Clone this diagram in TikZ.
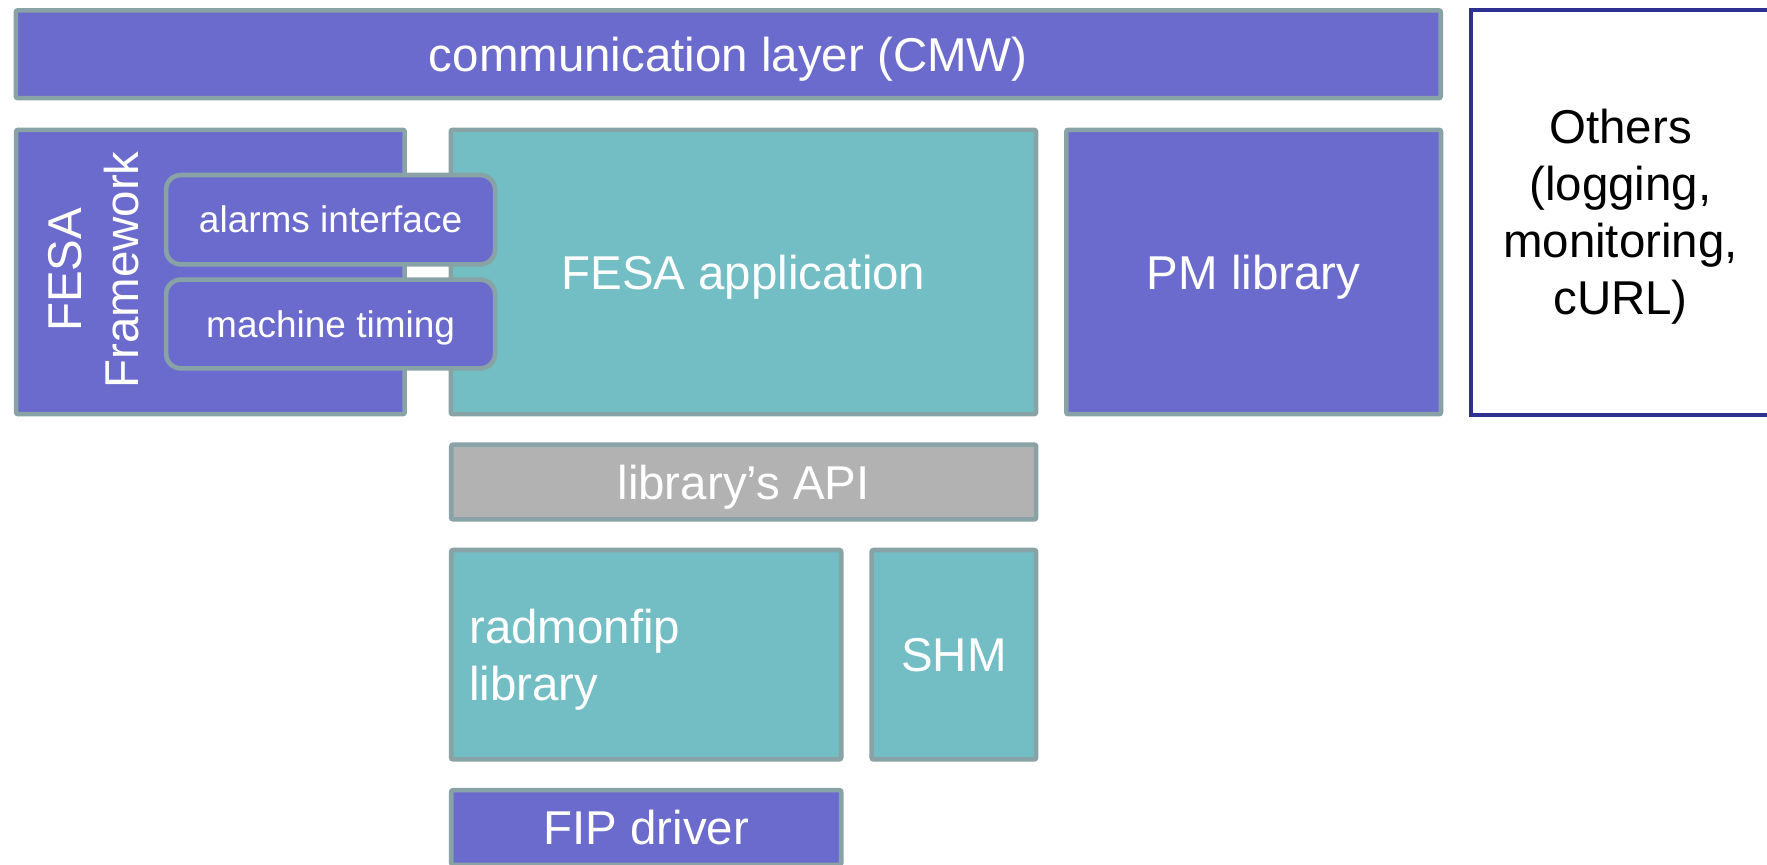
\documentclass[tikz,border=0pt]{standalone}
\usepackage{fontspec}
\setmainfont{Liberation Sans}
\definecolor{purp}{HTML}{6B6BCD}
\definecolor{teal2}{HTML}{72BEC4}
\definecolor{bord}{HTML}{88A2A5}
\definecolor{apigray}{HTML}{B2B2B2}
\definecolor{navy}{HTML}{2E3192}
\tikzset{
  bigfont/.style={font=\fontsize{35.6}{42.7}\selectfont},
  smallfont/.style={font=\fontsize{27.75}{33.3}\selectfont},
  sz/.style 2 args={minimum width={(#1-4.7)*0.75pt},minimum height={(#2-4.7)*0.75pt}},
  blk/.style={draw=bord, line width=3.5pt, rounded corners=1.5pt, inner sep=0pt,
    text=white, bigfont, text height=25.5pt, text depth=0pt},
  subblk/.style={blk, smallfont, rounded corners=11pt, text height=19.9pt, fill=purp},
  multitxt/.style={inner sep=0pt, bigfont},
  navybox/.style={draw=navy, line width=3pt, fill=white, inner sep=0pt}
}
\begin{document}
\begin{tikzpicture}[x=0.75pt,y=-0.75pt]
\clip (0,0) rectangle (1767,864);
\fill[white] (0,0) rectangle (1767,864);
% top layer
\node[blk, fill=purp, sz={1429.5}{92.5}] (comm) at (728.25,54.25) {communication layer (CMW)};
% middle row
\node[blk, fill=purp, sz={393.2}{289}] (fw) at (210.4,272) {};
\node[multitxt, rotate=90, align=center, text=white] (fwl) at (93.9,270) {FESA\\Framework};
\node[blk, fill=teal2, sz={589.8}{289}] (app) at (743.4,272) {FESA application};
\node[subblk, sz={333.7}{94}] (alarm) at (330.6,219.7) {alarms interface};
\node[subblk, sz={333.7}{93.4}] (timing) at (330.6,324) {machine timing};
\node[blk, fill=purp, sz={379.3}{289}] (pm) at (1253.7,272) {PM library};
% others
\node[navybox, minimum width={(303-4)*0.75pt}, minimum height={(408.7-4)*0.75pt}] (others) at (1620.5,212.3) {};
\node[multitxt, align=center, text=black] (otherst) at (1620.5,217) {Others\\(logging,\\monitoring,\\cURL)};
% lower stack
\node[blk, fill=apigray, sz={589.6}{79.4}] (api) at (743.7,482) {library’s API};
\node[blk, fill=teal2, sz={394.7}{214}] (rad) at (646.2,654.7) {};
\node[multitxt, align=left, anchor=west, text=white] (radl) at (469,659.7) {radmonfip\\library};
\node[blk, fill=teal2, sz={169.2}{214}] (shm) at (953.9,654.7) {SHM};
\node[blk, fill=purp, sz={394.7}{79.4}] (fip) at (646.2,827.5) {FIP driver};
\end{tikzpicture}
\end{document}
